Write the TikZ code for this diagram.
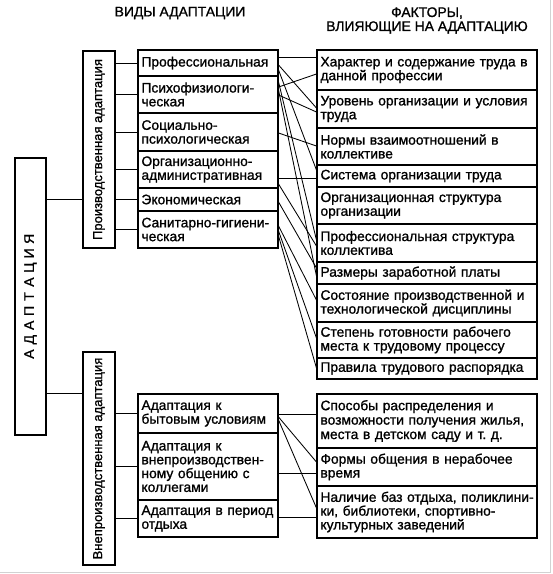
\documentclass[tikz,border=0pt]{standalone}
\usepackage{fontspec}
\setmainfont{Liberation Sans}[FakeBold=1.1]
\usetikzlibrary{calc}
\newcommand\adletter[1]{\makebox[14.4pt]{#1}}
\begin{document}
\begin{tikzpicture}[x=1pt,y=-1pt,
  box/.style={draw, line width=1.1pt, inner xsep=3.5pt, inner ysep=0pt, align=left, font=\fontsize{13.8pt}{13.8pt}\selectfont},
  lbox/.style={box, text width=133pt},
  rbox/.style={box, text width=213pt},
  vbox/.style={draw, line width=1.1pt, inner sep=0pt, rotate=90, font=\fontsize{13pt}{13pt}\selectfont},
  title/.style={align=center, inner sep=0pt, font=\fontsize{13.9pt}{14pt}\selectfont},
  link/.style={line width=0.85pt}
]
\useasboundingbox (0,0) rectangle (553,574);
\fill[white] (0,0) rectangle (553,574);
\draw[gray!35, line width=1pt] (550,0) -- (550,572) -- (0,572);

% titles
\node[title] (t1) at (180,13) {ВИДЫ АДАПТАЦИИ};
\node[title] (t2) at (427,20.5) {ФАКТОРЫ,\\ВЛИЯЮЩИЕ НА АДАПТАЦИЮ};

% vertical boxes
\node[vbox, font=\fontsize{14pt}{14pt}\selectfont, minimum width=277pt, minimum height=31pt] (A) at (30.5,296.5)
  {\adletter{А}\adletter{Д}\adletter{А}\adletter{П}\adletter{Т}\adletter{А}\adletter{Ц}\adletter{И}\adletter{Я}};
\node[vbox, minimum width=197pt, minimum height=32pt] (P) at (99,149.5) {Производственная адаптация};
\node[vbox, minimum width=213pt, minimum height=32pt] (V) at (99,458.5) {Внепроизводственная адаптация};

% left column, upper
\node[lbox, minimum height=26pt] (L1) at (208,63) {Профессиональная};
\node[lbox, minimum height=37pt] (L2) at (208,94.5) {Психофизиологи-\\ческая};
\node[lbox, minimum height=38pt] (L3) at (208,132) {Социально-\\психологическая};
\node[lbox, minimum height=37pt] (L4) at (208,169.5) {Организационно-\\административная};
\node[lbox, minimum height=23pt] (L5) at (208,199.5) {Экономическая};
\node[lbox, minimum height=37pt] (L6) at (208,229.5) {Санитарно-гигиени-\\ческая};

% left column, lower
\node[lbox, minimum height=39pt] (M1) at (208,413.5) {Адаптация к\\бытовым условиям};
\node[lbox, minimum height=67pt] (M2) at (208,466.5) {Адаптация к\\внепроизводствен-\\ному общению с\\коллегами};
\node[lbox, minimum height=37pt] (M3) at (208,518.5) {\mbox{Адаптация в период}\\отдыха};

% right column, upper
\node[rbox, minimum height=40pt] (R1) at (427,70) {\mbox{Характер и содержание труда в}\\данной профессии};
\node[rbox, minimum height=38pt] (R2) at (427,109) {\mbox{Уровень организации и условия}\\труда};
\node[rbox, minimum height=37pt] (R3) at (427,146.5) {Нормы взаимоотношений в\\коллективе};
\node[rbox, minimum height=22pt] (R4) at (427,176) {Система организации труда};
\node[rbox, minimum height=37pt] (R5) at (427,205.5) {Организационная структура\\организации};
\node[rbox, minimum height=38pt] (R6) at (427,243) {Профессиональная структура\\коллектива};
\node[rbox, minimum height=22pt] (R7) at (427,273) {Размеры заработной платы};
\node[rbox, minimum height=38pt] (R8) at (427,303) {\mbox{Состояние производственной и}\\технологической дисциплины};
\node[rbox, minimum height=36pt] (R9) at (427,340) {Степень готовности рабочего\\места к трудовому процессу};
\node[rbox, minimum height=21pt] (R10) at (427,368.5) {\mbox{Правила трудового распорядка}};

% right column, lower
\node[rbox, minimum height=54pt, font=\fontsize{13.8pt}{14.4pt}\selectfont] (S1) at (427,421) {Способы распределения и\\\mbox{возможности получения жилья,}\\места в детском саду и т.~д.};
\node[rbox, minimum height=38pt] (S2) at (427,467) {Формы общения в нерабочее\\время};
\node[rbox, minimum height=52pt] (S3) at (427,512) {\mbox{Наличие баз отдыха, поликлини-}\\\mbox{ки, библиотеки, спортивно-}\\культурных заведений};

% trunk connectors
\draw[link] (A.south |- L5.west) -- (P.north |- L5.west);
\draw[link] (A.south |- M1.north) -- (V.north |- M1.north);
\foreach \n in {L1,L2,L3,L4,L5,L6}{\draw[link] (P.south |- \n.west) -- (\n.west);}
\foreach \n in {M1,M2,M3}{\draw[link] (V.south |- \n.west) -- (\n.west);}

% crossing connectors, upper
\foreach \a/\da/\b/\db in {L1/-6/R1/-13, L1/2/R2/-1, L1/7/R4/-6, L2/-7.5/R1/4, L2/0.5/R2/3,
  L2/-12.5/R6/-3, L2/-4.5/R7/3, L3/1/R3/-0.5, L4/8.5/R4/2, L4/14.5/R6/3, L5/2.5/R7/-5,
  L6/-3.5/R8/-3, L6/1.5/R9/-2, L6/6.5/R10/-0.5}
  {\draw[link] ($(\a.east)+(0,\da)$) -- ($(\b.west)+(0,\db)$);}

% crossing connectors, lower
\foreach \a/\da/\b/\db in {M1/0.5/S1/-7, M1/3.5/S2/-5, M1/6.5/S3/-4, M2/6.5/S2/6, M3/-1.5/S3/5}
  {\draw[link] ($(\a.east)+(0,\da)$) -- ($(\b.west)+(0,\db)$);}
\end{tikzpicture}
\end{document}
